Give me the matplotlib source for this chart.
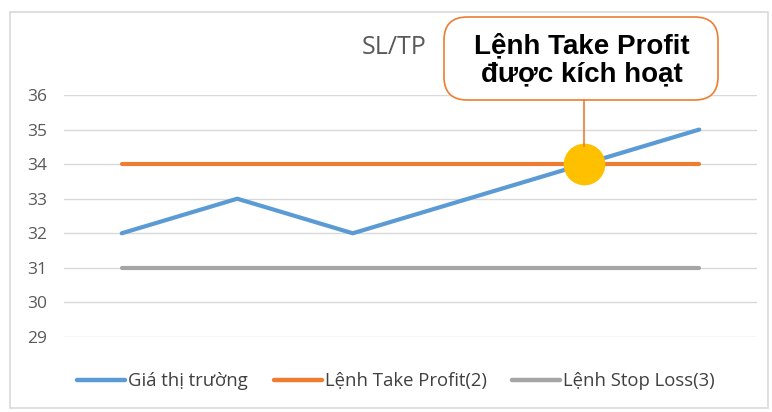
import matplotlib
matplotlib.use("Agg")
import matplotlib.pyplot as plt
from matplotlib.patches import FancyBboxPatch, Rectangle
from matplotlib.lines import Line2D

categories = [1, 2, 3, 4, 5, 6]
market_price = [32, 33, 32, 33, 34, 35]
take_profit = [34, 34, 34, 34, 34, 34]
stop_loss = [31, 31, 31, 31, 31, 31]
yticks = [29, 30, 31, 32, 33, 34, 35, 36]
series_names = ["Giá thị trường", "Lệnh Take Profit(2)", "Lệnh Stop Loss(3)"]
trigger_index = 4
trigger_value = 34
title = "SL/TP"
callout = "Lệnh Take Profit\nđược kích hoạt"

plt.rcParams['font.family'] = ['Open Sans', 'DejaVu Sans']

W, H = 772, 412
fig = plt.figure(figsize=(W/100, H/100), dpi=100)
fig.patch.set_facecolor("white")

# chart frame
fig.patches.append(Rectangle((10/W, 4/H), 758/W, (H-16)/H, transform=fig.transFigure,
                             fill=False, edgecolor="#D9D9D9", linewidth=1.2))

ax = fig.add_axes([64/W, 1-337/H, (757-64)/W, (337-95)/H])
x = list(range(len(categories)))
blue, orange, gray = "#5B9BD5", "#ED7D31", "#A5A5A5"
ax.plot(x, market_price, color=blue, lw=3, solid_capstyle="round", zorder=3)
ax.plot(x, take_profit, color=orange, lw=3, solid_capstyle="round", zorder=3)
ax.plot(x, stop_loss, color=gray, lw=3, solid_capstyle="round", zorder=3)
ax.set_xlim(-0.5, len(categories)-0.5)
ax.set_ylim(29, 36)
ax.set_yticks(yticks)
ax.set_xticks([])
ax.grid(axis="y", color="#D9D9D9", lw=1)
ax.set_axisbelow(True)
for s in ax.spines.values():
    s.set_visible(False)
ax.tick_params(axis="y", length=0, pad=12, labelsize=12.5, labelcolor="#595959")

# trigger marker
ax.plot([trigger_index], [trigger_value], marker="o", ms=29, color="#FFC000",
        mec="#FFC000", zorder=5)

# connector line and callout
tx, ty = ax.transData.transform((trigger_index, trigger_value))
fx = tx / W
fig.add_artist(Line2D([fx, fx], [1-100/H, ty/H + 18/H], transform=fig.transFigure,
                      color=orange, lw=1.2, zorder=4))
box = FancyBboxPatch((444/W, 1-100/H), (718-444)/W, (100-17)/H,
                     boxstyle="round,pad=0,rounding_size=0.03",
                     transform=fig.transFigure, facecolor="white",
                     edgecolor=orange, linewidth=1.2, mutation_aspect=W/H)
fig.patches.append(box)
fig.text(582/W, 1-60/H, callout, ha="center", va="center", fontsize=20,
         fontweight="bold", family=["Liberation Sans", "DejaVu Sans"],
         linespacing=1.1, color="black")

fig.text(394/W, 1-47/H, title, ha="center", va="center", fontsize=18, color="#595959")

# legend
handles = [Line2D([0], [0], color=c, lw=3.2, solid_capstyle="round") for c in (blue, orange, gray)]
fig.legend(handles, series_names, loc="center", bbox_to_anchor=(396/W, 1-381/H),
           ncol=3, frameon=False, fontsize=13.3, labelcolor="#404040",
           handlelength=2.6, handletextpad=0.15, columnspacing=1.4)

fig.savefig("out.png", dpi=100)
